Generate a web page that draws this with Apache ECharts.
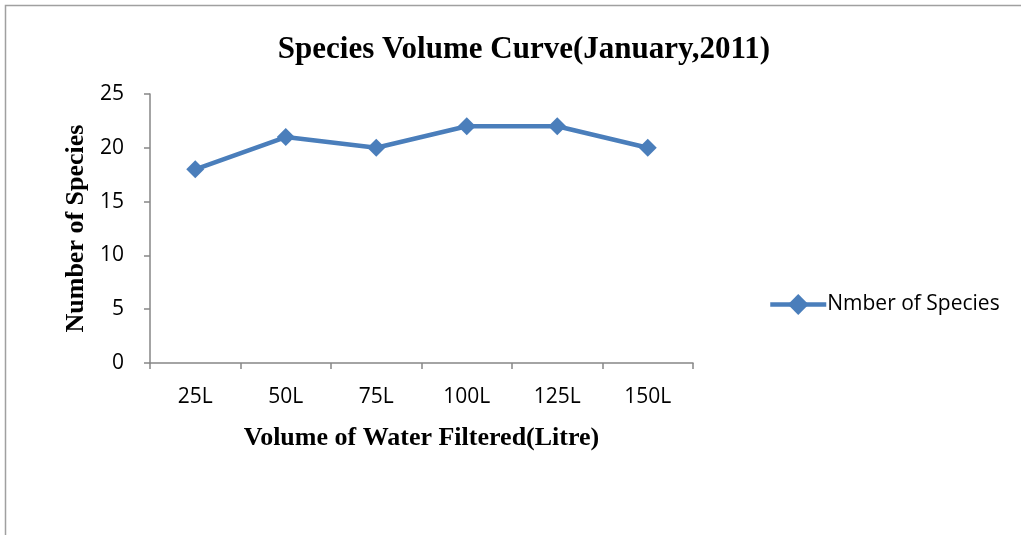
<!DOCTYPE html>
<html>
<head>
<meta charset="utf-8">
<script src="https://cdn.jsdelivr.net/npm/echarts@6/dist/echarts.min.js"></script>
<style>
html,body{margin:0;padding:0;background:#fff;}
#c{width:1021px;height:535px;}
</style>
</head>
<body>
<div id="c"></div>
<script>
var categories = ['25L', '50L', '75L', '100L', '125L', '150L'];
var speciesCounts = [18, 21, 20, 22, 22, 20];
var yTicks = [0, 5, 10, 15, 20, 25];

var chart = echarts.init(document.getElementById('c'));
var axisColor = '#868686';
var lineColor = '#4a7ebb';
var labelFont = '"Open Sans", "Liberation Sans", sans-serif';
var serifFont = '"Liberation Serif", "DejaVu Serif", serif';
chart.setOption({
  animation: false,
  backgroundColor: '#fff',
  graphic: [{
    type: 'rect',
    shape: {x: 5.5, y: 5.5, width: 1100, height: 700},
    style: {fill: 'none', stroke: '#a0a0a0', lineWidth: 1.5},
    silent: true
  }],
  title: {
    text: 'Species Volume Curve(January,2011)',
    left: 519, top: 29, textAlign: 'center',
    textStyle: {fontFamily: serifFont, fontWeight: 'bold', fontSize: 31, color: '#000'}
  },
  legend: {
    data: ['Nmber of Species'],
    left: 763, top: 289,
    itemWidth: 56, itemHeight: 26, itemGap: 4,
    lineStyle: {width: 4.5},
    textStyle: {fontFamily: labelFont, fontSize: 21, color: '#000', padding: [0,0,0,-4]}
  },
  grid: {left: 150, top: 94, right: 328, bottom: 172, containLabel: false},
  xAxis: {
    type: 'category',
    data: categories,
    boundaryGap: true,
    name: 'Volume of Water Filtered(Litre)',
    nameLocation: 'middle', nameGap: 62,
    nameTextStyle: {fontFamily: serifFont, fontWeight: 'bold', fontSize: 26, color: '#000'},
    axisLine: {lineStyle: {color: axisColor, width: 1.5}},
    axisTick: {show: true, alignWithLabel: false, length: 6, lineStyle: {color: axisColor, width: 1.5}},
    axisLabel: {fontFamily: labelFont, fontSize: 21, color: '#000', margin: 24},
    splitLine: {show: false}
  },
  yAxis: {
    type: 'value',
    min: 0, max: 25, interval: 5,
    name: 'Number of Species',
    nameLocation: 'middle', nameGap: 54,
    nameTextStyle: {fontFamily: serifFont, fontWeight: 'bold', fontSize: 26, color: '#000'},
    axisLine: {show: true, lineStyle: {color: axisColor, width: 1.5}},
    axisTick: {show: true, length: 6, lineStyle: {color: axisColor, width: 1.5}},
    axisLabel: {fontFamily: labelFont, fontSize: 21, color: '#000', margin: 26,
      formatter: function (v) { return yTicks.indexOf(v) >= 0 ? String(v) : ''; }},
    splitLine: {show: false}
  },
  series: [{
    name: 'Nmber of Species',
    type: 'line',
    data: speciesCounts,
    symbol: 'diamond',
    symbolSize: 18,
    lineStyle: {color: lineColor, width: 4.5},
    itemStyle: {color: lineColor}
  }]
});
</script>
</body>
</html>
